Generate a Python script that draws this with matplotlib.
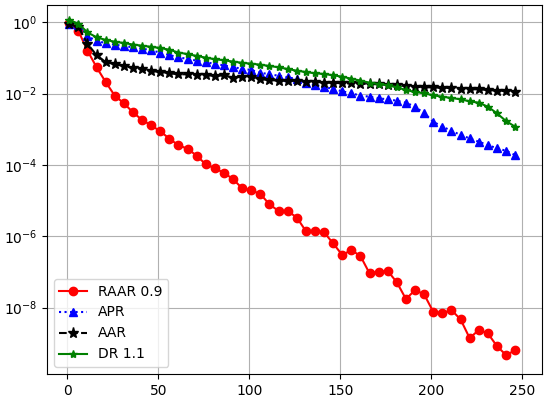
import numpy as np
import matplotlib
matplotlib.use('Agg')
import matplotlib.pyplot as plt

# iteration numbers where the markers sit
iters = np.arange(1, 250, 5)

raar = [0.94, 0.57, 0.16, 0.0547, 0.0211, 0.00873, 0.00535, 0.00299, 0.00182, 0.00129,
        0.000877, 0.000543, 0.000355, 0.000285, 0.000181, 0.000104, 8.0e-5, 6.0e-5, 4.0e-5, 2.2e-5,
        1.94e-5, 1.53e-5, 7.85e-6, 5.1e-6, 5.1e-6, 3.35e-6, 1.4e-6, 1.4e-6, 1.29e-6, 6.3e-7,
        2.97e-7, 4.1e-7, 2.78e-7, 9.1e-8, 1.01e-7, 1.06e-7, 5.1e-8, 1.73e-8, 3.1e-8, 2.34e-8,
        7.6e-9, 6.9e-9, 8.5e-9, 4.67e-9, 1.39e-9, 2.34e-9, 1.89e-9, 8.3e-10, 4.65e-10, 6.3e-10]

apr = [0.92, 0.85, 0.41, 0.30, 0.262, 0.236, 0.217, 0.198, 0.182, 0.165,
       0.14, 0.121, 0.104, 0.094, 0.084, 0.076, 0.068, 0.062, 0.055, 0.050,
       0.0459, 0.0386, 0.0348, 0.0318, 0.0286, 0.0257, 0.0202, 0.0174, 0.0156, 0.0135,
       0.0116, 0.0102, 0.0088, 0.00818, 0.00738, 0.00692, 0.00632, 0.00556, 0.0043, 0.0028,
       0.00163, 0.00118, 0.00091, 0.00069, 0.000557, 0.000448, 0.000361, 0.000292, 0.00025, 0.000189]

aar = [0.91, 0.74, 0.25, 0.119, 0.077, 0.0664, 0.0594, 0.0523, 0.0481, 0.0422,
       0.0411, 0.0371, 0.0348, 0.0348, 0.0332, 0.0332, 0.0312, 0.0325, 0.0279, 0.0298,
       0.0292, 0.0252, 0.0241, 0.0230, 0.0230, 0.0228, 0.0216, 0.0216, 0.0202, 0.0202,
       0.0194, 0.0194, 0.019, 0.0186, 0.0182, 0.0178, 0.0171, 0.0163, 0.0156, 0.0150,
       0.0150, 0.0144, 0.0144, 0.0137, 0.0132, 0.0132, 0.0126, 0.0121, 0.0118, 0.0113]

dr = [1.15, 0.92, 0.52, 0.38, 0.32, 0.285, 0.262, 0.238, 0.22, 0.205,
      0.19, 0.17, 0.142, 0.128, 0.114, 0.102, 0.092, 0.086, 0.079, 0.073,
      0.069, 0.0647, 0.0594, 0.0547, 0.049, 0.0439, 0.0403, 0.0371, 0.0355, 0.0326,
      0.0298, 0.0262, 0.0232, 0.0202, 0.0186, 0.0171, 0.0150, 0.0126, 0.0111, 0.0102,
      0.00895, 0.00818, 0.00753, 0.00692, 0.00608, 0.00556, 0.00430, 0.00280, 0.00170, 0.00118]

fig, ax = plt.subplots(figsize=(5.52, 3.99), dpi=100)
fig.subplots_adjust(left=0.085, right=0.982, top=0.987, bottom=0.063)

ax.semilogy(iters, raar, 'ro-', label='RAAR 0.9')
ax.semilogy(iters, apr, 'b^:', label='APR')
ax.semilogy(iters, aar, 'k*--', markersize=8, label='AAR')
ax.semilogy(iters, dr, 'g*-', markersize=6, label='DR 1.1')

ax.set_xlim(-11.3, 260.8)
ax.set_ylim(10**-9.86, 10**0.48)
ax.grid(True)
ax.legend(loc='lower left')

plt.savefig('out.png', dpi=100)
